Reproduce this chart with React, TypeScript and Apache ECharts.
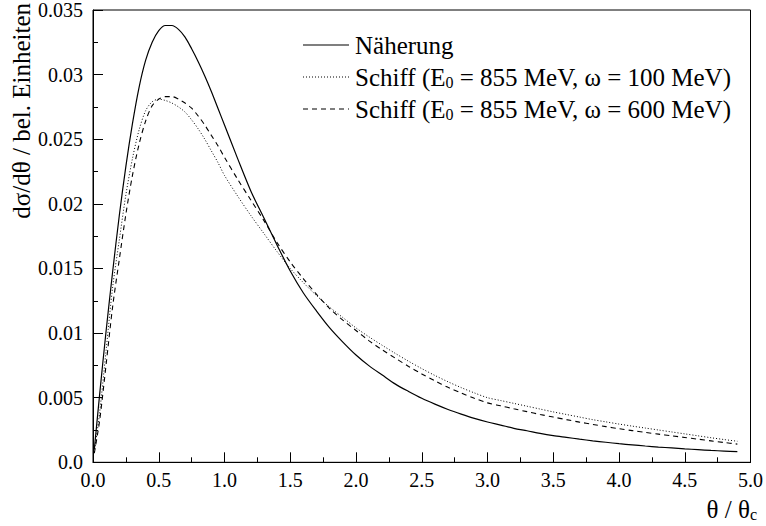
import React, { useEffect, useRef } from "react";
import * as echarts from "echarts";

const theta = [0.01, 0.05, 0.1, 0.15, 0.2, 0.25, 0.3, 0.35, 0.4, 0.45, 0.5, 0.55, 0.6, 0.65, 0.7, 0.75, 0.8, 0.85, 0.9, 0.95, 1.0,
  1.1, 1.2, 1.3, 1.4, 1.5, 1.6, 1.7, 1.8, 1.9, 2.0, 2.1, 2.2, 2.3, 2.4, 2.5, 2.6, 2.7, 2.8, 2.9, 3.0,
  3.1, 3.2, 3.3, 3.4, 3.5, 3.6, 3.7, 3.8, 3.9, 4.0, 4.1, 4.2, 4.3, 4.4, 4.5, 4.6, 4.7, 4.8, 4.9];

const naeherung = [0.0010, 0.0052, 0.0102, 0.0148, 0.0191, 0.0229, 0.0262, 0.0290, 0.0311, 0.0325, 0.0334, 0.0338, 0.0338, 0.0335, 0.0329, 0.0320, 0.0310, 0.0299, 0.0287, 0.0274, 0.0261,
  0.0235, 0.0210, 0.0189, 0.0168, 0.0148, 0.0131, 0.0117, 0.0104, 0.0093, 0.0083, 0.00746, 0.00675, 0.00605, 0.00548, 0.00495, 0.0045, 0.00409, 0.00373, 0.0034, 0.00312,
  0.00288, 0.00263, 0.00244, 0.00224, 0.00207, 0.00193, 0.00179, 0.00166, 0.00155, 0.00144, 0.00135, 0.00126, 0.00118, 0.00111, 0.00104, 0.00098, 0.00092, 0.00087, 0.00082];

const schiff100 = [0.0008, 0.0038, 0.0087, 0.0136, 0.0172, 0.0207, 0.0235, 0.0257, 0.0272, 0.0279, 0.0281, 0.0280, 0.0278, 0.0275, 0.0271, 0.0265, 0.0258, 0.0250, 0.0241, 0.0232, 0.0222,
  0.0206, 0.0191, 0.0177, 0.0163, 0.0150, 0.0139, 0.0129, 0.0120, 0.0112, 0.0104, 0.0097, 0.00905, 0.00842, 0.00782, 0.00725, 0.00672, 0.00623, 0.00578, 0.00537, 0.0050,
  0.00478, 0.00456, 0.00434, 0.00412, 0.0039, 0.0037, 0.0035, 0.0033, 0.00313, 0.00296, 0.0028, 0.00265, 0.0025, 0.00235, 0.0022, 0.00205, 0.0019, 0.00176, 0.00163];

const schiff600 = [0.0007, 0.0032, 0.0076, 0.0121, 0.0157, 0.0192, 0.0222, 0.0246, 0.0264, 0.0276, 0.0281, 0.0283, 0.0283, 0.0281, 0.0278, 0.0274, 0.0268, 0.0261, 0.0253, 0.0245, 0.0236,
  0.0219, 0.0203, 0.0187, 0.0170, 0.0155, 0.0142, 0.0130, 0.0119, 0.0110, 0.0102, 0.0094, 0.0087, 0.00805, 0.00742, 0.00684, 0.0063, 0.0058, 0.00536, 0.00496, 0.0046,
  0.00437, 0.00414, 0.00392, 0.0037, 0.0035, 0.0033, 0.00311, 0.00293, 0.00276, 0.0026, 0.00245, 0.00231, 0.00218, 0.00205, 0.00192, 0.00179, 0.00166, 0.00153, 0.00141];

const legendNames = ["Näherung", "Schiff (E0 = 855 MeV, ω = 100 MeV)", "Schiff (E0 = 855 MeV, ω = 600 MeV)"];

const FONT = "Liberation Serif, Times New Roman, serif";

function pairs(ys: number[]) {
  return theta.map((t, i) => [t, ys[i]]);
}

export default function App() {
  const ref = useRef<HTMLDivElement>(null);
  useEffect(() => {
    if (!ref.current) return;
    const chart = echarts.init(ref.current, null, { renderer: "svg" });
    const rich = {
      a: { fontFamily: FONT, fontSize: 25, color: "#000" },
      s: { fontFamily: FONT, fontSize: 16, color: "#000", verticalAlign: "bottom", padding: [10, 0, 0, 0] },
    };
    const legendText = (name: string) => {
      const m = name.match(/^(.*E)0( .*)$/);
      if (!m) return `{a|${name}}`;
      return `{a|${m[1]}}{s|0}{a|${m[2]}}`;
    };
    const legendStyles = [
      { lineDash: null as any, lineWidth: 1.2 },
      { lineDash: [1, 2], lineWidth: 1 },
      { lineDash: [5, 4], lineWidth: 1.1 },
    ];
    const legendRows = [45, 77, 109];
    const graphics: any[] = [];
    legendNames.forEach((n, i) => {
      graphics.push({
        type: "line",
        shape: { x1: 303, y1: legendRows[i], x2: 349, y2: legendRows[i] },
        style: { stroke: "#000", lineWidth: legendStyles[i].lineWidth, lineDash: legendStyles[i].lineDash },
      });
      graphics.push({
        type: "text",
        x: 355,
        y: legendRows[i],
        style: { text: legendText(n), rich, verticalAlign: "middle", align: "left" },
      });
    });
    graphics.push({
      type: "text",
      x: 21,
      y: 3,
      rotation: Math.PI / 2,
      style: { text: "dσ/dθ / bel. Einheiten", fontFamily: FONT, fontSize: 25, fill: "#000", align: "right", verticalAlign: "middle" },
    });
    graphics.push({
      type: "text",
      x: 757,
      y: 509,
      style: { text: "{a|θ / θ}{s|c}", rich, align: "right", verticalAlign: "middle" },
    });

    chart.setOption({
      animation: false,
      backgroundColor: "#fff",
      grid: { left: 93, right: 13.5, top: 9, bottom: 63.7, show: true, borderColor: "#000", borderWidth: 1 },
      xAxis: {
        type: "value",
        min: 0,
        max: 5,
        interval: 0.5,
        axisLine: { show: true, onZero: false, lineStyle: { color: "#000", width: 1 } },
        axisTick: { show: true, inside: true, length: 10, lineStyle: { color: "#000" } },
        minorTick: { show: true, splitNumber: 2, length: 5, lineStyle: { color: "#000" } },
        splitLine: { show: false },
        axisLabel: { color: "#000", fontFamily: FONT, fontSize: 20, margin: 8, formatter: (v: number) => v.toFixed(1) },
      },
      yAxis: {
        type: "value",
        min: 0,
        max: 0.035,
        interval: 0.005,
        axisLine: { show: true, onZero: false, lineStyle: { color: "#000", width: 1 } },
        axisTick: { show: true, inside: true, length: 10, lineStyle: { color: "#000" } },
        minorTick: { show: true, splitNumber: 2, length: 5, lineStyle: { color: "#000" } },
        splitLine: { show: false },
        axisLabel: {
          color: "#000",
          fontFamily: FONT,
          fontSize: 20,
          margin: 10,
          formatter: (v: number) => (v === 0 ? "0.0" : String(parseFloat(v.toFixed(4)))),
        },
      },
      graphic: graphics,
      series: [
        {
          name: legendNames[0],
          type: "line",
          data: pairs(naeherung),
          symbol: "none",
          smooth: 0.3,
          lineStyle: { color: "#000", width: 1.2, type: "solid" },
        },
        {
          name: legendNames[1],
          type: "line",
          data: pairs(schiff100),
          symbol: "none",
          smooth: 0.3,
          lineStyle: { color: "#000", width: 1, type: [1, 2] },
        },
        {
          name: legendNames[2],
          type: "line",
          data: pairs(schiff600),
          symbol: "none",
          smooth: 0.3,
          lineStyle: { color: "#000", width: 1.1, type: [5, 4] },
        },
      ],
    });
    return () => chart.dispose();
  }, []);
  return <div ref={ref} style={{ width: 766, height: 526, position: "absolute", left: 0, top: 0 }} />;
}
